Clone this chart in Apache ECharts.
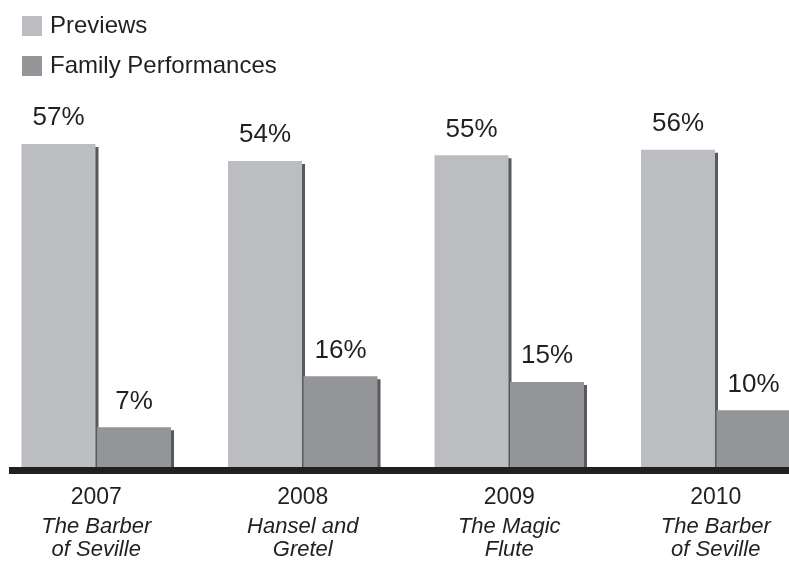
<!DOCTYPE html>
<html>
<head>
<meta charset="utf-8">
<script src="https://cdn.jsdelivr.net/npm/echarts@6/dist/echarts.min.js"></script>
<style>
  html, body { margin: 0; padding: 0; background: #fff; }
  #chart { width: 789px; height: 576px; }
</style>
</head>
<body>
<div id="chart"></div>
<script>
// 数据
var years = ['2007', '2008', '2009', '2010'];
var titles = ['The Barber\nof Seville', 'Hansel and\nGretel', 'The Magic\nFlute', 'The Barber\nof Seville'];
var previews = [57, 54, 55, 56];
var family = [7, 16, 15, 10];
var seriesNames = ['Previews', 'Family Performances'];

var FONT = "'Liberation Sans', Arial, sans-serif";
var INK = '#231f20';

var categories = years.map(function (y, i) {
  return y + '|' + titles[i];
});

var myChart = echarts.init(document.getElementById('chart'));

function barSeries(name, data, color) {
  return {
    name: name,
    type: 'bar',
    data: data,
    barWidth: 74,
    barGap: '2%',
    itemStyle: {
      color: color,
      shadowColor: '#58595b',
      shadowBlur: 0,
      shadowOffsetX: 3,
      shadowOffsetY: 3
    },
    label: {
      show: true,
      position: 'top',
      distance: 13,
      formatter: '{c}%',
      color: INK,
      fontFamily: FONT,
      fontSize: 26
    }
  };
}

var option = {
  animation: false,
  backgroundColor: '#fff',
  legend: {
    orient: 'vertical',
    left: 22,
    top: 14,
    padding: 0,
    itemWidth: 20,
    itemHeight: 20,
    itemGap: 16,
    icon: 'rect',
    selectedMode: false,
    itemStyle: { shadowBlur: 0, shadowOffsetX: 0, shadowOffsetY: 0, shadowColor: 'transparent' },
    textStyle: { color: INK, fontFamily: FONT, fontSize: 24, lineHeight: 20, padding: [0, 0, 0, 3] },
    data: seriesNames
  },
  grid: { left: -7, right: -30, top: 127, bottom: 109, outerBoundsMode: 'none', containLabel: false },
  xAxis: {
    type: 'category',
    data: categories,
    axisLine: { show: false },
    axisTick: { show: false },
    axisLabel: {
      margin: 13,
      interval: 0,
      formatter: function (v) {
        var parts = v.split('|');
        var lines = parts[1].split('\n').map(function (t) { return '{t|' + t + '}'; });
        return '{y|' + parts[0] + '}\n' + lines.join('\n');
      },
      rich: {
        y: { fontFamily: FONT, fontSize: 23, lineHeight: 35, color: INK },
        t: { fontFamily: FONT, fontSize: 22, fontStyle: 'italic', lineHeight: 23, color: INK }
      }
    }
  },
  yAxis: { type: 'value', min: 0, max: 60, show: false },
  graphic: [{
    type: 'rect',
    z: 100,
    shape: { x: 9, y: 467, width: 780, height: 7 },
    style: { fill: INK }
  }],
  series: [
    barSeries(seriesNames[0], previews, '#bcbdc1'),
    barSeries(seriesNames[1], family, '#939598')
  ]
};

myChart.setOption(option);
</script>
</body>
</html>
